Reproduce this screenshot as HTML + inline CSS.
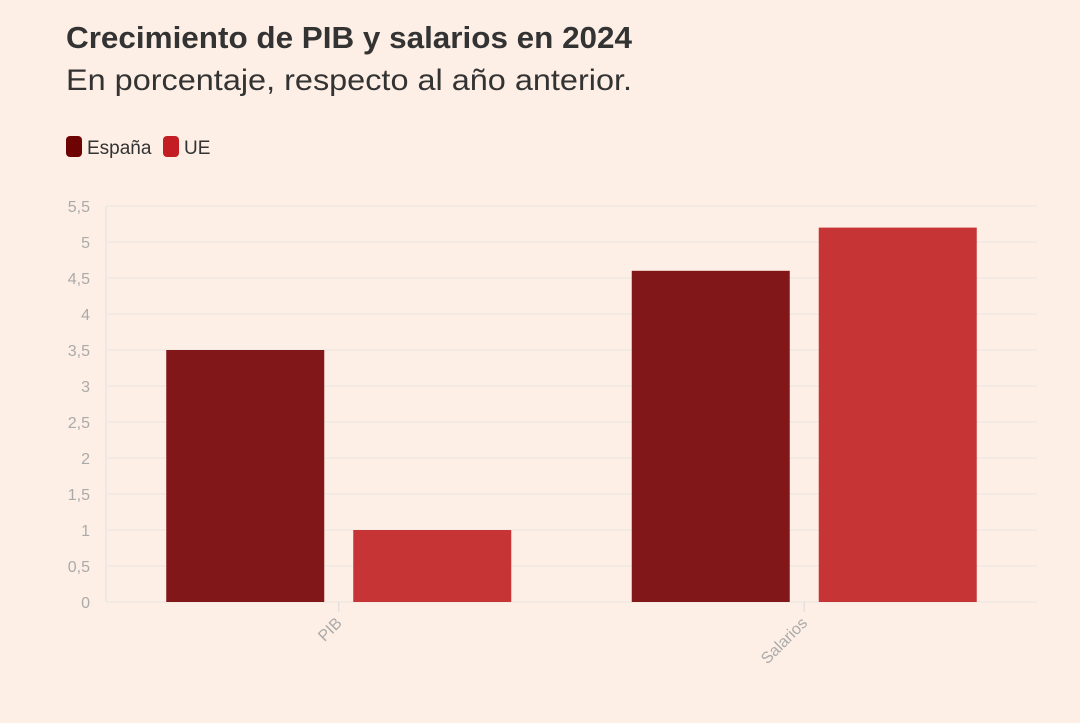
<!DOCTYPE html>
<html><head><meta charset="utf-8"><style>
body{margin:0;background:#fdefe5;width:1080px;height:718px;overflow:hidden;font-family:"Liberation Sans",sans-serif}
</style></head><body>
<svg width="1080" height="718">
<rect width="1080" height="718" fill="#fdefe5"/>
<text x="66" y="48" font-size="31" font-weight="bold" fill="#333" textLength="566" lengthAdjust="spacingAndGlyphs">Crecimiento de PIB y salarios en 2024</text>
<text x="66" y="90" font-size="30" fill="#333" textLength="566" lengthAdjust="spacingAndGlyphs">En porcentaje, respecto al año anterior.</text>
<g>
<rect x="66" y="136" width="16" height="21" rx="4" fill="#6e0303"/>
<text x="87" y="154" font-size="19" fill="#333">España</text>
<rect x="163" y="136" width="16" height="21" rx="4" fill="#c41e25"/>
<text x="184" y="154" font-size="19" fill="#333">UE</text>
</g>
<g id="plot"></g>
</svg>
<script>
const categories=["PIB","Salarios"];
const espana=[3.5,4.6];
const ue=[1.0,5.2];
const yTicks=[0,0.5,1,1.5,2,2.5,3,3.5,4,4.5,5,5.5];
const yTickLabels=["0","0,5","1","1,5","2","2,5","3","3,5","4","4,5","5","5,5"];
const X0=106,X1=1037,Y0=602,Y1=206,YMAX=5.5;
const y=v=>Y0-(v/YMAX)*(Y0-Y1);
const band=(X1-X0)/categories.length;
const ns="http://www.w3.org/2000/svg";
const g=document.getElementById('plot');
function mk(t,a){const e=document.createElementNS(ns,t);for(const k in a)e.setAttribute(k,a[k]);g.appendChild(e);return e;}
yTicks.forEach((t,i)=>{
 const l=mk('line',{x1:X0,x2:X1,y1:y(t),y2:y(t),stroke:'#f0e8e4','stroke-width':1.5});
 
 
 const tx=mk('text',{x:90,y:y(t)+6,'text-anchor':'end','font-size':16,fill:'#aaa'});
 tx.textContent=yTickLabels[i];
 
 
});
const ax=mk('line',{x1:X0,x2:X0,y1:Y1,y2:Y0,stroke:'#ebe6e6','stroke-width':1.5});


const bw=158,gap=29;
categories.forEach((c,i)=>{
 const cx=X0+band*(i+0.5);
 const left=cx-gap/2-bw;
 [[espana[i],left,'#82171a','espana'],[ue[i],cx+gap/2,'#c73435','ue']].forEach(([v,x,col,n])=>{
  const r=mk('rect',{x:x,y:y(v),width:bw,height:Y0-y(v),fill:col});
  
  
 });
 const tk=mk('line',{x1:cx,x2:cx,y1:Y0,y2:Y0+10,stroke:'#e4e0e0','stroke-width':1.5});
 
 
 const t=mk('text',{x:cx+4,y:Y0+22,'text-anchor':'end','font-size':16,fill:'#aaa',transform:`rotate(-45 ${cx+4} ${Y0+22})`});
 t.textContent=c;
 
 
});
</script>
</body></html>
